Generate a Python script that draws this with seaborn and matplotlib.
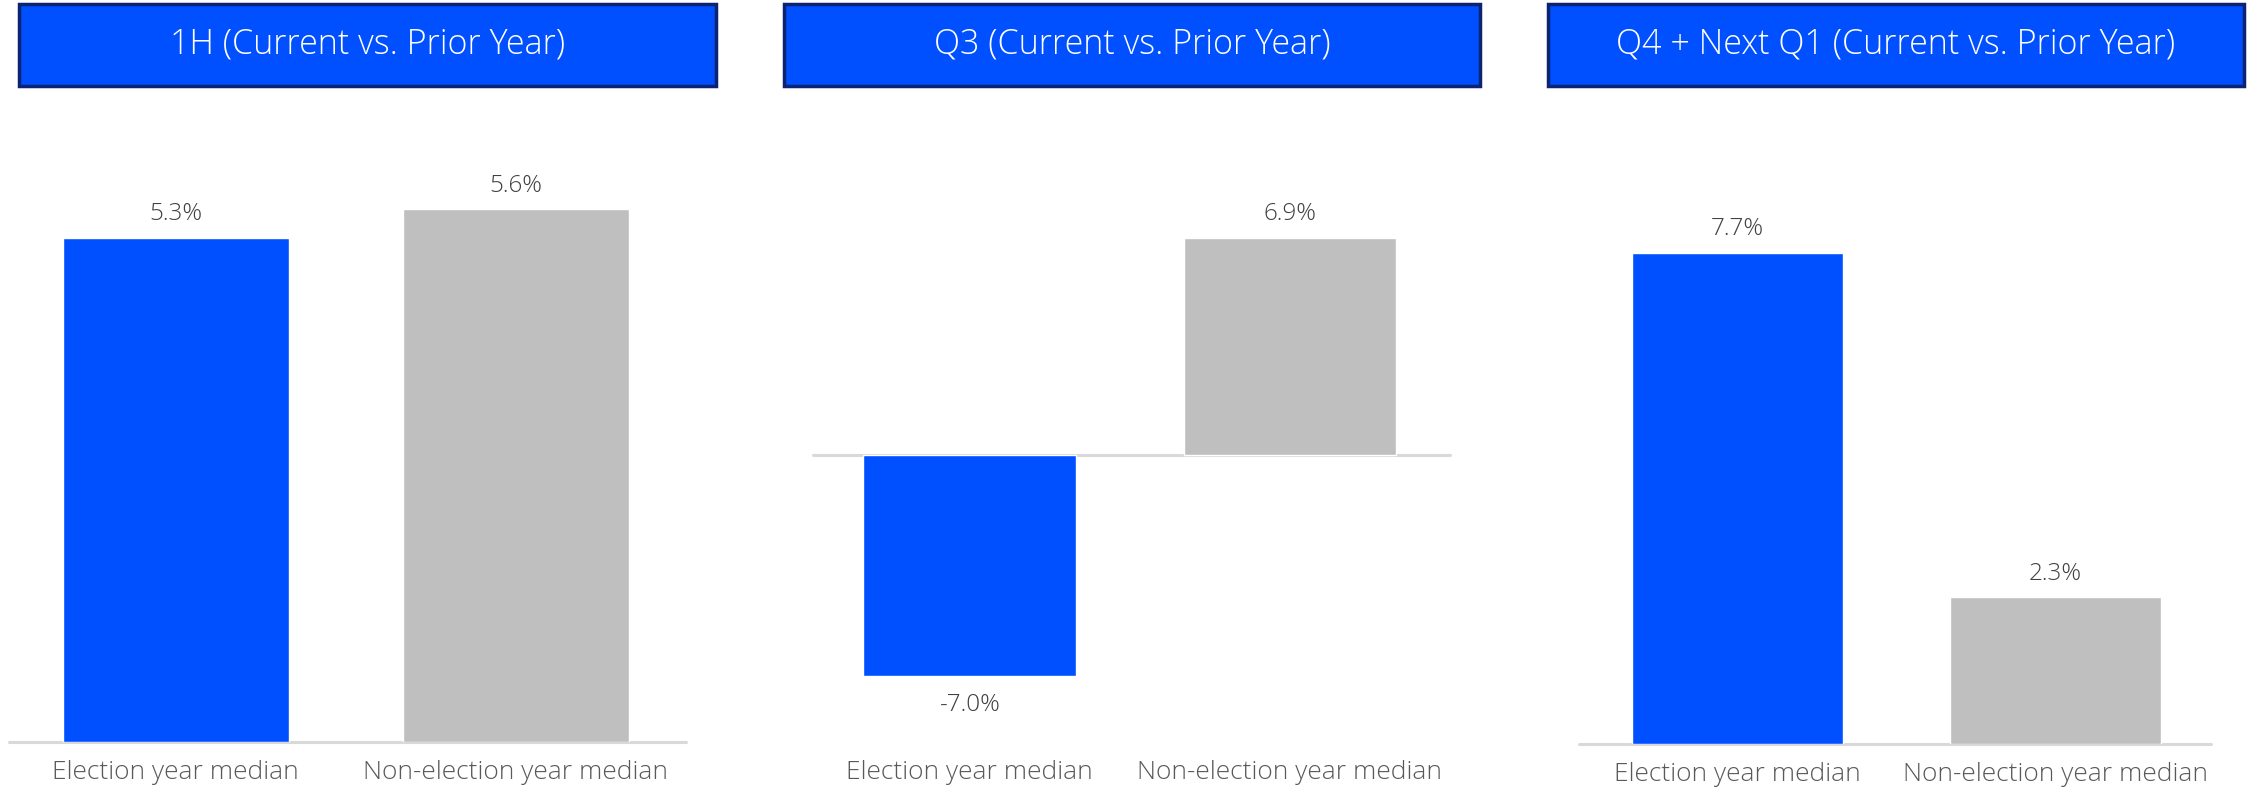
import matplotlib
matplotlib.use("Agg")
import matplotlib.pyplot as plt
from matplotlib.patches import Rectangle
import seaborn as sns
import pandas as pd

# Data
categories = ["Election year median", "Non-election year median"]
panel_titles = [
    "1H (Current vs. Prior Year)",
    "Q3 (Current vs. Prior Year)",
    "Q4 + Next Q1 (Current vs. Prior Year)",
]
values_1h = [5.3, 5.6]
values_q3 = [-7.0, 6.9]
values_q4q1 = [7.7, 2.3]

BLUE = "#0050FF"
GRAY = "#BFBFBF"
BASE = "#D9D9D9"
BORDER = "#0A2472"

sns.set_theme(style="white")
plt.rcParams["font.family"] = ["Open Sans", "DejaVu Sans"]

W, H = 2251, 790
fig = plt.figure(figsize=(W / 100, H / 100), dpi=100)
fig.patch.set_facecolor("white")

# (left, right, bottom, top) in pixels, y from the top of the figure
axes_px = [(9, 686, 742, 100), (813, 1450, 742, 100), (1579, 2211, 744, 100)]
ylims = [(0, 6.75), (-9.11, 11.27), (0, 10.09)]
xlims = [(-0.49, 1.5), (-0.49, 1.5), (-0.5, 1.49)]
title_px = [(19, 716), (784, 1480), (1548, 2244)]
series = [values_1h, values_q3, values_q4q1]

for i, vals in enumerate(series):
    l, r, b, t = axes_px[i]
    ax = fig.add_axes([l / W, (H - b) / H, (r - l) / W, (b - t) / H])
    df = pd.DataFrame({"cat": categories, "val": vals})
    sns.barplot(data=df, x="cat", y="val", hue="cat", palette=[BLUE, GRAY],
                width=0.665, legend=False, ax=ax, saturation=1, zorder=2)
    ax.set_xlim(*xlims[i])
    ax.set_ylim(*ylims[i])
    ax.axhline(0, color=BASE, lw=2.2, zorder=1, clip_on=False)
    for s in ax.spines.values():
        s.set_visible(False)
    ax.set_yticks([])
    ax.set_xlabel("")
    ax.set_ylabel("")
    ax.tick_params(axis="x", length=0, pad=13, labelsize=19, labelcolor="#595959")
    for lab in ax.get_xticklabels():
        lab.set_fontweight("light")
    for j, v in enumerate(vals):
        off = 17 if v >= 0 else -21
        ax.annotate(f"{v:.1f}%", xy=(j, v), xytext=(0, off), textcoords="offset points",
                    ha="center", va="center", fontsize=17.5, color="#404040",
                    fontweight="light")

    # Title banner
    tl, tr = title_px[i]
    fig.patches.append(Rectangle((tl / W, (H - 86) / H), (tr - tl) / W, 82 / H,
                                 transform=fig.transFigure, facecolor=BLUE,
                                 edgecolor=BORDER, lw=2.5, zorder=3))
    fig.text((tl + tr) / 2 / W, (H - 44) / H, panel_titles[i], ha="center",
             va="center", color="white", fontsize=24.5, fontweight="light", zorder=4)

fig.savefig("out.png", dpi=100, facecolor="white")
